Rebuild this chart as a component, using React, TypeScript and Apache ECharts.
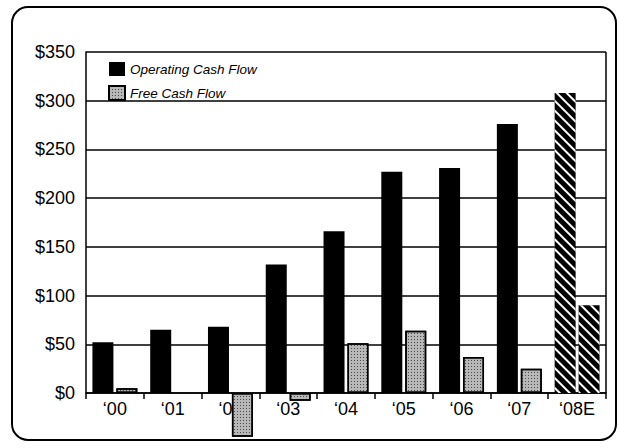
import React, { useEffect, useRef } from "react";
import * as echarts from "echarts";

const categories = ["\u201800", "\u201801", "\u201802", "\u201803", "\u201804", "\u201805", "\u201806", "\u201807", "\u201808E"];
const operatingCashFlow = [52, 65, 68, 132, 166, 227, 231, 276, 308];
const freeCashFlow: (number | null)[] = [5, null, -45, -8, 51, 64, 37, 25, 90];
const estimateCategory = "\u201808E";
const yTicks = { min: 0, max: 350, interval: 50 };

const FONT = "'Liberation Sans', Arial, sans-serif";

export default function App() {
  const ref = useRef<HTMLDivElement>(null);
  useEffect(() => {
    if (!ref.current) return;
    const chart = echarts.init(ref.current, null, { renderer: "svg" });
    const hatch = {
      symbol: "rect",
      symbolSize: 1,
      dashArrayX: [1, 0],
      dashArrayY: [2, 5],
      rotation: Math.PI / 4,
      color: "#ffffff",
    };
    const stipple = {
      symbol: "rect",
      symbolSize: 1,
      dashArrayX: [1, 2],
      dashArrayY: [1, 2],
      rotation: 0,
      color: "rgba(0,0,0,0.6)",
    };
    const ocfData = operatingCashFlow.map((v, i) =>
      categories[i] === estimateCategory
        ? { value: v, itemStyle: { color: "#000", decal: hatch } }
        : { value: v }
    );
    const fcfData = freeCashFlow.map((v, i) =>
      categories[i] === estimateCategory
        ? { value: v, itemStyle: { color: "#000", borderWidth: 0, decal: hatch } }
        : { value: v }
    );
    chart.setOption({
      animation: false,
      backgroundColor: "#fff",
      grid: { left: 86, right: 14, top: 52, bottom: 55, containLabel: false },
      legend: {
        show: true,
        orient: "vertical",
        left: 103,
        top: 57,
        icon: "rect",
        itemWidth: 16,
        itemHeight: 14,
        itemGap: 9,
        selectedMode: false,
        textStyle: { fontFamily: FONT, fontStyle: "italic", fontSize: 13.5, color: "#000" },
        data: ["Operating Cash Flow", "Free Cash Flow"],
      },
      xAxis: {
        type: "category",
        data: categories,
        axisLine: { show: true, lineStyle: { color: "#000", width: 1.5 } },
        axisTick: { show: true, length: 6, inside: false, lineStyle: { color: "#000", width: 1.5 } },
        axisLabel: { color: "#000", fontFamily: FONT, fontSize: 18, margin: 7 },
      },
      yAxis: {
        type: "value",
        min: yTicks.min,
        max: yTicks.max,
        interval: yTicks.interval,
        axisLine: { show: true, lineStyle: { color: "#000", width: 1.5 } },
        axisTick: { show: false },
        splitLine: { show: true, lineStyle: { color: "#000", width: 1.5 } },
        axisLabel: {
          color: "#000",
          fontFamily: FONT,
          fontSize: 18,
          margin: 11,
          formatter: (v: number) => "$" + v,
        },
      },
      series: [
        {
          name: "Operating Cash Flow",
          type: "bar",
          barWidth: 21,
          barGap: "14%",
          clip: false,
          itemStyle: { color: "#000" },
          data: ocfData,
        },
        {
          name: "Free Cash Flow",
          type: "bar",
          barWidth: 21,
          barGap: "14%",
          clip: false,
          itemStyle: { color: "#b8b8b8", borderColor: "#000", borderWidth: 1.5, decal: stipple },
          data: fcfData,
        },
      ],
      graphic: [
        {
          type: "line",
          silent: true,
          shape: { x1: 606, y1: 52, x2: 606, y2: 393 },
          style: { stroke: "#000", lineWidth: 1.5 },
        },
        {
          type: "rect",
          silent: true,
          shape: { x: 12, y: 7, width: 604, height: 433, r: 16 },
          style: { fill: "none", stroke: "#000", lineWidth: 2 },
        },
      ],
    });
    return () => chart.dispose();
  }, []);
  return (
    <div
      ref={ref}
      style={{ position: "absolute", left: 0, top: 0, width: 620, height: 448, background: "#fff" }}
    />
  );
}
